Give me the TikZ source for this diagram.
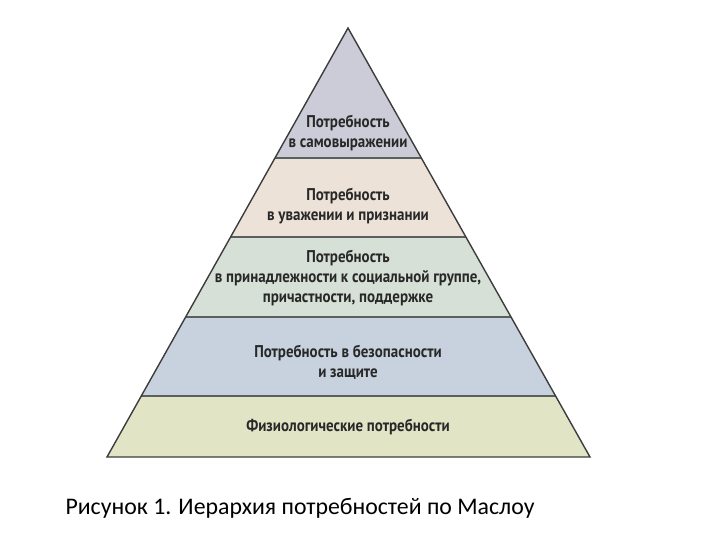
\documentclass[tikz,border=0pt]{standalone}
\usepackage{fontspec}
\setmainfont{PT Sans}
\newfontfamily\pyrfont[FakeStretch=0.88]{PT Sans}
\newfontfamily\capfont{Carlito}
\usetikzlibrary{calc}
\definecolor{bandA}{RGB}{204,204,216}
\definecolor{bandB}{RGB}{236,226,216}
\definecolor{bandC}{RGB}{214,224,214}
\definecolor{bandD}{RGB}{200,210,222}
\definecolor{bandE}{RGB}{226,228,198}
\definecolor{edgecol}{RGB}{60,60,60}
\definecolor{sepcol}{RGB}{90,95,95}
\definecolor{txtcol}{RGB}{40,40,40}
\tikzset{
  bandlabel/.style={font=\pyrfont\bfseries\fontsize{17}{20}\selectfont, text=txtcol, align=center, inner sep=0pt},
  sepline/.style={draw=sepcol, line width=1.3pt},
  outline/.style={draw=edgecol, line width=1.4pt, line join=miter},
  captext/.style={font=\capfont\fontsize{23.8}{26}\selectfont, text=black, inner sep=0pt}
}
\begin{document}
\begin{tikzpicture}[x=1pt,y=-1pt]
\useasboundingbox (0,0) rectangle (720,540);
\coordinate (A) at (348,28);
\coordinate (BL) at (107,457);
\coordinate (BR) at (590,457);
\coordinate (L1) at ($(A)!0.3030!(BL)$); \coordinate (R1) at ($(A)!0.3030!(BR)$);
\coordinate (L2) at ($(A)!0.4872!(BL)$); \coordinate (R2) at ($(A)!0.4872!(BR)$);
\coordinate (L3) at ($(A)!0.6737!(BL)$); \coordinate (R3) at ($(A)!0.6737!(BR)$);
\coordinate (L4) at ($(A)!0.8578!(BL)$); \coordinate (R4) at ($(A)!0.8578!(BR)$);
\fill[bandA] (A) -- (R1) -- (L1) -- cycle;
\fill[bandB] (L1) -- (R1) -- (R2) -- (L2) -- cycle;
\fill[bandC] (L2) -- (R2) -- (R3) -- (L3) -- cycle;
\fill[bandD] (L3) -- (R3) -- (R4) -- (L4) -- cycle;
\fill[bandE] (L4) -- (R4) -- (BR) -- (BL) -- cycle;
\draw[sepline] (L1) -- (R1);
\draw[sepline] (L2) -- (R2);
\draw[sepline] (L3) -- (R3);
\draw[sepline] (L4) -- (R4);
\draw[outline] (A) -- (BR) -- (BL) -- cycle;
\node[bandlabel] (t1) at (348,133) {Потребность\\в самовыражении};
\node[bandlabel] (t2) at (348,206) {Потребность\\в уважении и признании};
\node[bandlabel] (t3) at (348,278) {Потребность\\в принадлежности к социальной группе,\\причастности, поддержке};
\node[bandlabel] (t4) at (348,362) {Потребность в безопасности\\и защите};
\node[bandlabel] (t5) at (348,427) {Физиологические потребности};
\node[captext, anchor=base] (cap) at (300,514) {Рисунок 1. Иерархия потребностей по Маслоу};
\end{tikzpicture}
\end{document}
